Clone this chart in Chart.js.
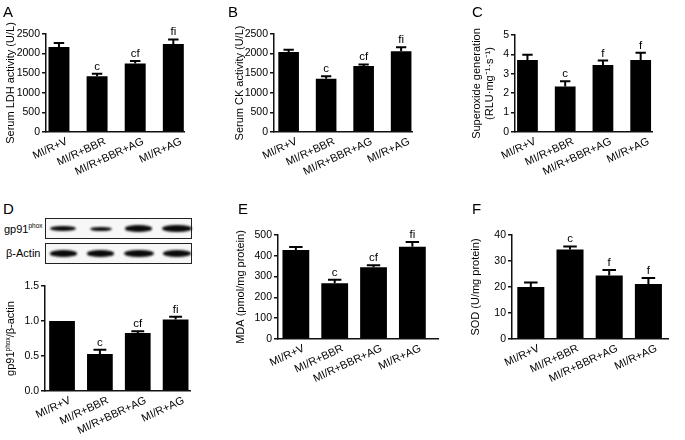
<!DOCTYPE html>
<html>
<head>
<meta charset="utf-8">
<script src="https://cdn.jsdelivr.net/npm/chart.js@4.4.1/dist/chart.umd.min.js"></script>
<style>
  body { margin: 0; background: #fff; font-family: "Liberation Sans", Arial, sans-serif; }
  #fig { position: relative; width: 685px; height: 440px; overflow: hidden; }
  #fig canvas { position: absolute; }
  .letter { position: absolute; font-size: 15px; line-height: 15px; color: #000; }
  .blot { position: absolute; left: 45px; width: 145px; height: 19px; border: 1.5px solid #222; background: #f7f7f7; }
  .blotlbl { position: absolute; font-size: 11px; color: #000; }
  .blotlbl sup { font-size: 6.5px; }
  .band { position: absolute; background: #0a0a0a; border-radius: 50%; filter: blur(0.9px); }
</style>
</head>
<body>
<div id="fig">
  <canvas id="cA" width="230" height="195" style="left:0px;top:0px"></canvas>
  <canvas id="cB" width="226" height="195" style="left:229px;top:0px"></canvas>
  <canvas id="cC" width="219" height="195" style="left:466px;top:0px"></canvas>
  <canvas id="cD" width="225" height="170" style="left:0px;top:270px"></canvas>
  <canvas id="cE" width="225" height="240" style="left:230px;top:200px"></canvas>
  <canvas id="cF" width="220" height="240" style="left:465px;top:200px"></canvas>

  <div class="letter" style="left:3px;top:4px">A</div>
  <div class="letter" style="left:228px;top:4px">B</div>
  <div class="letter" style="left:472px;top:4px">C</div>
  <div class="letter" style="left:3px;top:201px">D</div>
  <div class="letter" style="left:238px;top:201px">E</div>
  <div class="letter" style="left:472px;top:201px">F</div>

  <div class="blotlbl" style="left:4px;top:222px">gp91<sup>phox</sup></div>
  <div class="blotlbl" style="left:6px;top:247px">β-Actin</div>
  <div class="blot" id="blotGp" style="top:218px"></div>
  <div class="blot" id="blotAct" style="top:243px"></div>
</div>

<script>
const groups = ['MI/R+V', 'MI/R+BBR', 'MI/R+BBR+AG', 'MI/R+AG'];

// A - serum LDH (U/L)
const ldh = [2170, 1420, 1745, 2245];
const ldhErr = [100, 65, 65, 115];
const ldhSig = ['', 'c', 'cf', 'fi'];

// B - serum CK (U/L)
const ck = [2040, 1360, 1685, 2060];
const ckErr = [60, 65, 40, 105];
const ckSig = ['', 'c', 'cf', 'fi'];

// C - superoxide generation
const sox = [3.71, 2.35, 3.45, 3.71];
const soxErr = [0.27, 0.26, 0.23, 0.38];
const soxSig = ['', 'c', 'f', 'f'];

// D - gp91phox / beta-actin
const gp91 = [1.0, 0.53, 0.83, 1.02];
const gp91Err = [0, 0.06, 0.025, 0.04];
const gp91Sig = ['', 'c', 'cf', 'fi'];
const gp91Band = [0.6, 0.3, 0.75, 1.0];
const actinBand = [0.75, 0.75, 1.0, 0.85];

// E - MDA (pmol/mg protein)
const mda = [428, 268, 345, 444];
const mdaErr = [14, 17, 9, 22];
const mdaSig = ['', 'c', 'cf', 'fi'];

// F - SOD (U/mg protein)
const sod = [20.0, 34.4, 24.4, 21.2];
const sodErr = [1.7, 1.2, 2.1, 2.3];
const sodSig = ['', 'c', 'f', 'f'];

// y axis ticks
const ldhTicks = [0, 500, 1000, 1500, 2000, 2500];
const ckTicks = [0, 500, 1000, 1500, 2000, 2500];
const soxTicks = [0, 1, 2, 3, 4, 5];
const gp91Ticks = [0, 0.5, 1.0, 1.5];
const mdaTicks = [0, 100, 200, 300, 400, 500];
const sodTicks = [0, 10, 20, 30, 40];

Chart.defaults.font.family = '"Liberation Sans", Arial, sans-serif';
Chart.defaults.color = '#000';

// error bars + significance letters
const errBars = {
  id: 'errbars',
  afterDatasetsDraw(chart, args, opts) {
    if (!opts || !opts.err) return;
    const meta = chart.getDatasetMeta(0);
    const ys = chart.scales.y;
    const vals = chart.data.datasets[0].data;
    const ctx = chart.ctx;
    ctx.save();
    ctx.strokeStyle = '#000';
    ctx.fillStyle = '#000';
    ctx.lineWidth = 2;
    ctx.font = '11.5px "Liberation Sans", Arial, sans-serif';
    ctx.textAlign = 'center';
    ctx.textBaseline = 'alphabetic';
    meta.data.forEach((bar, i) => {
      const e = opts.err[i];
      const top = ys.getPixelForValue(vals[i].y + e);
      if (e > 0) {
        const half = bar.width * 0.25;
        ctx.beginPath();
        ctx.moveTo(bar.x, bar.y);
        ctx.lineTo(bar.x, top);
        ctx.moveTo(bar.x - half, top);
        ctx.lineTo(bar.x + half, top);
        ctx.stroke();
      }
      if (opts.sig[i]) ctx.fillText(opts.sig[i], bar.x, top - 4);
    });
    ctx.restore();
  }
};

// rotated y title with superscript (panel D)
const supTitle = {
  id: 'suptitle',
  afterDraw(chart, args, opts) {
    if (!opts || !opts.parts) return;
    const ctx = chart.ctx;
    const area = chart.chartArea;
    ctx.save();
    let total = 0;
    opts.parts.forEach(p => {
      ctx.font = p.size + 'px "Liberation Sans", Arial, sans-serif';
      total += ctx.measureText(p.t).width;
    });
    ctx.translate(opts.x, (area.top + area.bottom) / 2);
    ctx.rotate(-Math.PI / 2);
    ctx.fillStyle = '#000';
    ctx.textBaseline = 'alphabetic';
    let pos = -total / 2;
    opts.parts.forEach(p => {
      ctx.font = p.size + 'px "Liberation Sans", Arial, sans-serif';
      ctx.fillText(p.t, pos, 4 + (p.rise || 0));
      pos += ctx.measureText(p.t).width;
    });
    ctx.restore();
  }
};

Chart.register(errBars, supTitle);

function makePanel(id, c) {
  return new Chart(document.getElementById(id), {
    type: 'bar',
    data: {
      datasets: [{
        data: c.vals.map((v, i) => ({ x: i, y: v })),
        backgroundColor: '#000',
        borderWidth: 0,
        barPercentage: c.barPct,
        categoryPercentage: 1
      }]
    },
    options: {
      responsive: false,
      animation: false,
      devicePixelRatio: 1,
      layout: { padding: { top: c.padTop, right: c.padRight, left: 0, bottom: 0 } },
      plugins: {
        legend: { display: false },
        tooltip: { enabled: false },
        errbars: { err: c.err, sig: c.sig },
        suptitle: c.supTitle || {}
      },
      scales: {
        x: {
          type: 'linear',
          min: c.xMin,
          max: c.xMax,
          offset: false,
          afterBuildTicks: s => { s.ticks = groups.map((g, i) => ({ value: i })); },
          afterFit: s => { s.height = c.xH; },
          ticks: {
            autoSkip: false,
            minRotation: 25,
            maxRotation: 25,
            labelOffset: 8,
            padding: 3,
            font: { size: 11 },
            color: '#000',
            callback: v => groups[v]
          },
          grid: { display: false, drawTicks: false },
          border: { color: '#111', width: 1.5 }
        },
        y: {
          min: c.ticks[0],
          max: c.ticks[c.ticks.length - 1],
          afterBuildTicks: s => { s.ticks = c.ticks.map(v => ({ value: v })); },
          afterFit: s => { s.width = c.yW; },
          ticks: {
            font: { size: 10.5 },
            color: '#000',
            padding: 2,
            callback: c.fmt || (v => v)
          },
          grid: { display: true, drawOnChartArea: false, color: '#111', lineWidth: 1.5, tickLength: 4 },
          border: { color: '#111', width: 1.5 },
          title: {
            display: !!c.title,
            text: c.title,
            font: { size: 11 },
            color: '#000',
            padding: { top: 4, bottom: 0 }
          }
        }
      }
    }
  });
}

makePanel('cA', { vals: ldh, err: ldhErr, sig: ldhSig, ticks: ldhTicks, title: 'Serum LDH activity (U/L)',
  xMin: -0.34, xMax: 3.28, barPct: 0.55, yW: 46, xH: 63, padTop: 34, padRight: 46 });

makePanel('cB', { vals: ck, err: ckErr, sig: ckSig, ticks: ckTicks, title: 'Serum CK activity (U/L)',
  xMin: -0.39, xMax: 3.29, barPct: 0.55, yW: 45, xH: 63, padTop: 34, padRight: 43 });

makePanel('cC', { vals: sox, err: soxErr, sig: soxSig, ticks: soxTicks,
  title: ['Superoxide generation', '(RLU\u00b7mg\u207b\u00b9\u00b7s\u207b\u00b9)'],
  xMin: -0.33, xMax: 3.3, barPct: 0.55, yW: 49, xH: 63, padTop: 35, padRight: 33 });

const chartD = makePanel('cD', { vals: gp91, err: gp91Err, sig: gp91Sig, ticks: gp91Ticks, title: '',
  fmt: v => v.toFixed(1),
  supTitle: { x: 10, parts: [{ t: 'gp91', size: 11 }, { t: 'phox', size: 6.5, rise: -4 }, { t: '/\u03b2-actin', size: 11 }] },
  xMin: -0.45, xMax: 3.38, barPct: 0.68, yW: 45, xH: 49, padTop: 16, padRight: 35 });

makePanel('cE', { vals: mda, err: mdaErr, sig: mdaSig, ticks: mdaTicks, title: 'MDA (pmol/mg protein)',
  xMin: -0.46, xMax: 3.66, barPct: 0.69, yW: 48, xH: 101, padTop: 35, padRight: 17 });

makePanel('cF', { vals: sod, err: sodErr, sig: sodSig, ticks: sodTicks, title: 'SOD (U/mg protein)',
  xMin: -0.48, xMax: 3.5, barPct: 0.69, yW: 47, xH: 101, padTop: 35, padRight: 17 });

// western blot bands, lined up with the bars of panel D
function drawBands(boxId, strength) {
  const box = document.getElementById(boxId);
  const xs = chartD.scales.x;
  strength.forEach((s, i) => {
    const cx = xs.getPixelForValue(i) - 45;
    const w = 18 + 12 * s;
    const h = 2.5 + 5 * s;
    const b = document.createElement('div');
    b.className = 'band';
    b.style.width = w + 'px';
    b.style.height = h + 'px';
    b.style.left = (cx - w / 2) + 'px';
    b.style.top = (9.5 - h / 2) + 'px';
    box.appendChild(b);
  });
}
drawBands('blotGp', gp91Band);
drawBands('blotAct', actinBand);
</script>
</body>
</html>
